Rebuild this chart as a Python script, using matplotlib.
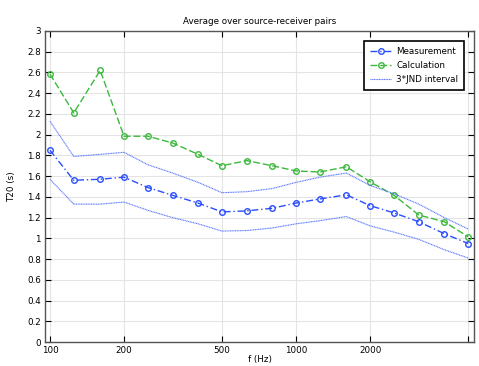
import matplotlib
matplotlib.use("Agg")
import matplotlib.pyplot as plt
from matplotlib.ticker import FixedLocator, NullLocator

freqs = [100, 125, 160, 200, 250, 315, 400, 500, 630, 800, 1000, 1250, 1600,
         2000, 2500, 3150, 4000, 5000]
measurement = [1.85, 1.56, 1.57, 1.59, 1.49, 1.415, 1.34, 1.255, 1.265, 1.29,
               1.34, 1.38, 1.42, 1.315, 1.245, 1.16, 1.045, 0.95]
calculation = [2.585, 2.21, 2.62, 1.985, 1.985, 1.92, 1.81, 1.70, 1.75, 1.70,
               1.65, 1.64, 1.69, 1.545, 1.415, 1.225, 1.16, 1.015]
jnd_upper = [2.13, 1.79, 1.81, 1.83, 1.71, 1.63, 1.54, 1.44, 1.45, 1.48,
             1.54, 1.59, 1.63, 1.51, 1.43, 1.33, 1.20, 1.09]
jnd_lower = [1.57, 1.33, 1.33, 1.35, 1.27, 1.20, 1.14, 1.07, 1.075, 1.10,
             1.14, 1.17, 1.21, 1.12, 1.06, 0.99, 0.89, 0.81]
xticks = [100, 200, 500, 1000, 2000, 5000]
xticklabels = ["100", "200", "500", "1000", "2000", ""]

BLUE = "#2a4dff"
GREEN = "#3cb83c"
JND = "#5a78ff"
FS = 6.3

fig = plt.figure(figsize=(4.79, 3.66), dpi=100)
ax = fig.add_axes([45 / 479, 24 / 366, 429 / 479, 311 / 366])

ax.plot(freqs, measurement, color=BLUE, ls=(0, (5, 2, 1, 2)), lw=1.0,
        marker="o", mfc="none", mec=BLUE, ms=4, mew=1.0, label="Measurement")
ax.plot(freqs, calculation, color=GREEN, ls=(0, (5, 2)), lw=1.0,
        marker="o", mfc="none", mec=GREEN, ms=4, mew=1.0, label="Calculation")
ax.plot(freqs, jnd_upper, color=JND, ls=(0, (1, 0.5)), lw=0.8,
        label="3*JND interval")
ax.plot(freqs, jnd_lower, color=JND, ls=(0, (1, 0.5)), lw=0.8)

ax.set_xscale("log")
ax.set_xlim(95.5, 5280)
ax.set_ylim(0, 3)
ax.xaxis.set_major_locator(FixedLocator(xticks))
ax.xaxis.set_minor_locator(NullLocator())
ax.set_xticklabels(xticklabels)
yt = [i * 0.2 for i in range(16)]
ax.set_yticks(yt)
ax.set_yticklabels([f"{v:.1f}".rstrip("0").rstrip(".") for v in yt])

ax.grid(True, color="#e4e4e4", lw=0.8)
ax.set_axisbelow(True)
ax.tick_params(direction="in", top=True, right=True, labelsize=FS, length=4,
               width=0.8, pad=3)
for s in ax.spines.values():
    s.set_color("#555555")
    s.set_linewidth(1.0)

ax.set_title("Average over source-receiver pairs", fontsize=FS, pad=5)
ax.set_xlabel("f (Hz)", fontsize=FS, labelpad=0)
ax.set_ylabel("T20 (s)", fontsize=FS, labelpad=8)

leg = ax.legend(loc="upper right", fontsize=FS, fancybox=False, framealpha=1,
                edgecolor="black", handlelength=2.4, handletextpad=0.6,
                borderaxespad=1.1, labelspacing=0.6, borderpad=0.7)
leg.get_frame().set_linewidth(1.2)

fig.savefig("out.png", dpi=100)
